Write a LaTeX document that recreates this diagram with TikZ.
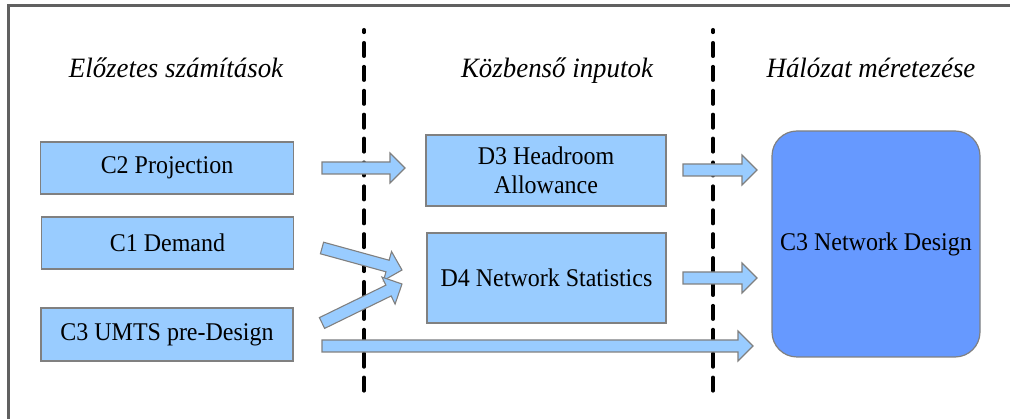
\documentclass[tikz,border=0pt]{standalone}
\usepackage{fontspec}
\usepackage{graphicx}
\setmainfont{Liberation Serif}
\usetikzlibrary{calc}
\definecolor{boxblue}{HTML}{99CCFF}
\definecolor{ndblue}{HTML}{6699FF}
\definecolor{edgegray}{HTML}{808080}
\definecolor{framegray}{HTML}{606060}
\newcommand\sxbox[1]{\scalebox{0.94}[1]{#1}}
\newcommand\sxhead[1]{\scalebox{0.96}[1]{#1}}
\tikzset{
  box/.style={draw=edgegray, line width=1.2pt, fill=boxblue, inner sep=0pt,
    font=\fontsize{25.5}{29}\selectfont, align=center},
  bigbox/.style={draw=edgegray, line width=1.2pt, fill=ndblue, inner sep=0pt,
    rounded corners=25pt, font=\fontsize{25.5}{29}\selectfont, align=center},
  heading/.style={font=\fontsize{28}{32}\selectfont\itshape, inner sep=0pt, anchor=base},
  divider/.style={line width=3.5pt, line cap=round,
    dash pattern=on 13.5pt off 10.4pt, dash phase=10.9pt},
  barrow/.style={draw=edgegray, line width=1.1pt, fill=boxblue, line join=miter},
}
% block arrow from #1 to #2
\newcommand\blockarrow[2]{%
  \filldraw[barrow]
    ($(#1)!6pt!90:(#2)$) --
    ($(#2)!15pt!(#1)!6pt!-90:(#1)$) --
    ($(#2)!15pt!(#1)!15pt!-90:(#1)$) --
    (#2) --
    ($(#2)!15pt!(#1)!15pt!90:(#1)$) --
    ($(#2)!15pt!(#1)!6pt!90:(#1)$) --
    ($(#1)!6pt!-90:(#2)$) -- cycle;}
\begin{document}
\begin{tikzpicture}[x=1pt, y=-1pt]
\useasboundingbox (0,0) rectangle (1010,419);
% frame
\draw[framegray, line width=3pt] (8.5,419) -- (8.5,5.5) -- (1010,5.5);
% dividers
\coordinate (d1t) at (364,29.75);
\coordinate (d1b) at (364,391);
\coordinate (d2t) at (713,29.75);
\coordinate (d2b) at (713,391);
\draw[divider] (d1t) -- (d1b);
\draw[divider] (d2t) -- (d2b);
% headings
\node[heading] (h1) at (176,77.5) {\sxhead{Előzetes számítások}};
\node[heading] (h2) at (557,77.5) {\sxhead{Közbenső inputok}};
\node[heading] (h3) at (871,77.5) {\sxhead{Hálózat méretezése}};
% boxes
\node[box, minimum width=253pt, minimum height=52pt] (c2) at (167,168) {\sxbox{C2 Projection}};
\node[box, minimum width=252pt, minimum height=52pt] (c1) at (167.5,243) {\sxbox{C1 Demand}};
\node[box, minimum width=252pt, minimum height=53pt] (c3u) at (167,334.5) {\sxbox{C3 UMTS pre-Design}};
\node[box, minimum width=240pt, minimum height=71pt] (d3) at (546,170.5) {\sxbox{D3 Headroom}\\\sxbox{Allowance}};
\node[box, minimum width=239pt, minimum height=90pt] (d4) at (546.5,278) {\sxbox{D4 Network Statistics}};
\node[bigbox, minimum width=208pt, minimum height=226pt] (nd) at (876,244) {\sxbox{C3 Network Design}};
% arrow end points
\coordinate (a1s) at (322,168);
\coordinate (a1e) at (405,168);
\coordinate (a2s) at (322,248);
\coordinate (a2e) at (402,270);
\coordinate (a3s) at (322,323);
\coordinate (a3e) at (402,284);
\coordinate (a4s) at (322,346);
\coordinate (a4e) at (753,346);
\coordinate (a5s) at (683,170);
\coordinate (a5e) at (757,170);
\coordinate (a6s) at (683,278);
\coordinate (a6e) at (757,278);
\blockarrow{a1s}{a1e}
\blockarrow{a2s}{a2e}
\blockarrow{a3s}{a3e}
\blockarrow{a4s}{a4e}
\blockarrow{a5s}{a5e}
\blockarrow{a6s}{a6e}
\end{tikzpicture}
\end{document}
